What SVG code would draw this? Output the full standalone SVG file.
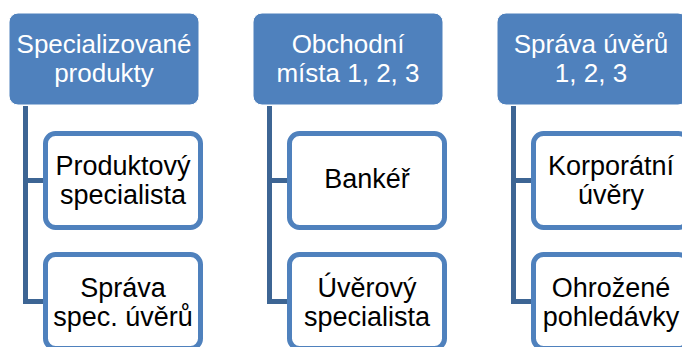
<svg xmlns="http://www.w3.org/2000/svg" width="682" height="347" viewBox="0 0 682 347">
<style>
.hdr{fill:#4F81BD;stroke:#ffffff;stroke-width:1}
.child{fill:#ffffff;stroke:#4F81BD;stroke-width:5}
.conn{fill:none;stroke:#3D6594;stroke-width:5;stroke-linejoin:miter}
.ht{font-family:"Liberation Sans",Arial,sans-serif;font-size:26px;fill:#ffffff;text-anchor:middle}
.ct{font-family:"Liberation Sans",Arial,sans-serif;font-size:27px;fill:#000000;text-anchor:middle}
</style>
<rect width="682" height="347" fill="#ffffff"/>
<g id="connectors">
<path class="conn" d="M25.5 106 V301.5 H44 M25.5 180.5 H44"/>
<path class="conn" d="M269.5 106 V301.5 H288 M269.5 180.5 H288"/>
<path class="conn" d="M513.5 106 V301.5 H532 M513.5 180.5 H532"/>
</g>
<g id="h1"><rect class="hdr" x="9" y="13" width="190" height="92" rx="9"/>
<text class="ht" x="104" y="53">Specializované</text><text class="ht" x="104" y="82">produkty</text></g>
<g id="h2"><rect class="hdr" x="253" y="13" width="190" height="92" rx="9"/>
<text class="ht" x="348" y="53">Obchodní</text><text class="ht" x="348" y="82">místa 1, 2, 3</text></g>
<g id="h3"><rect class="hdr" x="497" y="13" width="190" height="92" rx="9"/>
<text class="ht" x="591" y="53">Správa úvěrů</text><text class="ht" x="591" y="82">1, 2, 3</text></g>
<g id="c11"><rect class="child" x="45.5" y="133.5" width="155" height="94" rx="10"/>
<text class="ct" x="123" y="175">Produktový</text><text class="ct" x="123" y="204">specialista</text></g>
<g id="c12"><rect class="child" x="45.5" y="254.5" width="155" height="94" rx="10"/>
<text class="ct" x="123" y="297">Správa</text><text class="ct" x="123" y="326">spec. úvěrů</text></g>
<g id="c21"><rect class="child" x="289.5" y="133.5" width="155" height="94" rx="10"/>
<text class="ct" x="367" y="188">Bankéř</text></g>
<g id="c22"><rect class="child" x="289.5" y="254.5" width="155" height="94" rx="10"/>
<text class="ct" x="367" y="297">Úvěrový</text><text class="ct" x="367" y="326">specialista</text></g>
<g id="c31"><rect class="child" x="533.5" y="133.5" width="155" height="94" rx="10"/>
<text class="ct" x="611" y="175">Korporátní</text><text class="ct" x="611" y="204">úvěry</text></g>
<g id="c32"><rect class="child" x="533.5" y="254.5" width="155" height="94" rx="10"/>
<text class="ct" x="611" y="297">Ohrožené</text><text class="ct" x="611" y="326">pohledávky</text></g>
</svg>
